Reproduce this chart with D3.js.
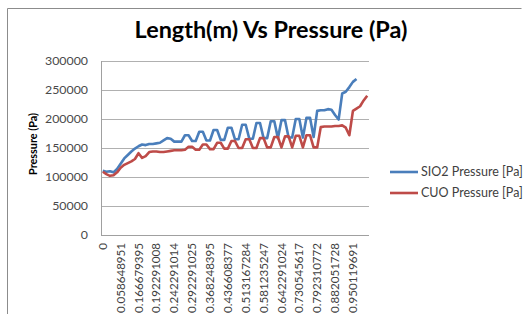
<!DOCTYPE html>
<html><head><meta charset="utf-8">
<script src="https://cdn.jsdelivr.net/npm/d3@7"></script>
<style>body{margin:0;background:#fff} svg{display:block}</style>
</head><body><svg id="c" width="531" height="314"></svg>
<script>
const title = "Length(m) Vs Pressure (Pa)";
const yTitle = "Pressure (Pa)";
const seriesNames = ["SIO2 Pressure [Pa]", "CUO Pressure [Pa]"];
const nCategories = 75;
const tickEvery = 5;
const tickLabels = ["0","0.058648951","0.166679395","0.192291008","0.242291014","0.292291025",
  "0.368248395","0.436608377","0.513167284","0.581235247","0.642291024","0.730545617",
  "0.792310772","0.882051728","0.950119691"];
const yTicks = [0,50000,100000,150000,200000,250000,300000];
const sio2 = [111000,109000,110000,108000,114000,123000,132000,138000,144000,149000,
  153000,156000,155000,157000,157000,158000,159000,163000,167000,166000,
  161000,161000,161000,172000,172000,162000,162000,178000,178000,163000,
  163000,181000,181000,164000,164000,185000,185000,165000,165000,190000,
  190000,166000,166000,193000,193000,167000,167000,196000,196000,167000,
  198000,198000,168000,168000,200000,200000,168000,202000,202000,169000,
  214000,215000,215000,217000,216000,207000,199000,244000,247000,255000,
  264000,269000];
const cuo = [109000,105000,102000,103000,108000,116000,121000,124000,127000,131000,
  141000,133000,136000,143000,144000,144000,143000,143000,144000,145000,
  146000,146000,146000,147000,152000,152000,147000,147000,156000,156000,
  148000,148000,159000,159000,149000,149000,162000,162000,150000,150000,
  165000,165000,150000,150000,167000,167000,151000,151000,169000,169000,
  151000,170000,170000,151000,171000,171000,151000,172000,172000,151000,
  151000,186000,187000,187000,187000,188000,188000,189000,185000,172000,
  214000,218000,222000,232000,240000];
const colors = ["#4A7EBB", "#BE4B48"];

const svg = d3.select("#c");
const FONT = "Lato, 'Open Sans', sans-serif";
function fit(sel, w){ const l = sel.node().getComputedTextLength(); const fs = parseFloat(sel.attr("font-size")); sel.attr("font-size", fs*w/l); return fs*w/l; }

// chart border
svg.append("path").attr("d","M7.5,314 V8.5 H521.5").attr("fill","none").attr("stroke","#8c8c8c").attr("stroke-width",1);

const L = 101, R = 369, T = 61, B = 235;
const x = d3.scaleBand().domain(d3.range(nCategories)).range([L, R]).padding(0);
const y = d3.scaleLinear().domain([0, 300000]).range([B, T]);
const cx = i => x(i) + x.bandwidth()/2;

// gridlines
svg.append("g").selectAll("line").data(yTicks.filter(d=>d>0)).join("line")
  .attr("x1", L).attr("x2", R).attr("y1", d=>Math.round(y(d))+0.5).attr("y2", d=>Math.round(y(d))+0.5)
  .attr("stroke","#b0b0b0").attr("stroke-width",1);

// axes lines
svg.append("line").attr("x1",L+0.5).attr("x2",L+0.5).attr("y1",T).attr("y2",B+0.5).attr("stroke","#a0a0a0");
svg.append("line").attr("x1",L).attr("x2",R).attr("y1",B+0.5).attr("y2",B+0.5).attr("stroke","#a0a0a0");

// y tick labels
const yl = svg.append("g").selectAll("text").data(yTicks).join("text")
  .attr("x", 88).attr("y", d=>y(d)).attr("dy","0.35em").attr("text-anchor","end")
  .attr("font-family",FONT).attr("font-size",12).attr("fill","#4a4a4a").text(d=>d);
const yfs = fit(d3.select(yl.nodes()[6]), 43);
yl.attr("font-size", yfs);

// x tick labels
const xt = d3.range(0, nCategories, tickEvery).filter((d,i)=>i<tickLabels.length);
const xl = svg.append("g").selectAll("text").data(xt).join("text")
  .attr("transform", d=>`translate(${cx(d)},243) rotate(-90)`).attr("dy","0.35em")
  .attr("text-anchor","end").attr("font-family",FONT).attr("font-size",11).attr("fill","#404040")
  .text((d,i)=>tickLabels[i]);
const xfs = fit(d3.select(xl.nodes()[1]), 70);
xl.attr("font-size", xfs);

// lines
const line = d3.line().x((d,i)=>cx(i)).y(d=>y(d));
[sio2, cuo].forEach((s,k)=>{
  svg.append("path").datum(s).attr("d", line).attr("fill","none")
    .attr("stroke", colors[k]).attr("stroke-width",2.6).attr("stroke-linejoin","round");
});

// title
const tt = svg.append("text").attr("x",271).attr("y",38).attr("text-anchor","middle")
  .attr("font-family",FONT).attr("font-weight","bold").attr("font-size",18).attr("fill","#000").text(title);
fit(tt, 273);

// y title
const yt = svg.append("text").attr("transform","translate(33,144) rotate(-90)").attr("dy","0.35em")
  .attr("text-anchor","middle").attr("font-family",FONT).attr("font-weight","bold").attr("font-size",10)
  .attr("fill","#000").text(yTitle);
fit(yt, 62);

// legend
const ly = [172, 193];
seriesNames.forEach((n,k)=>{
  svg.append("line").attr("x1",390).attr("x2",418).attr("y1",ly[k]).attr("y2",ly[k])
    .attr("stroke",colors[k]).attr("stroke-width",2.6);
  const t = svg.append("text").attr("x",421).attr("y",ly[k]).attr("dy","0.35em")
    .attr("font-family",FONT).attr("font-size",11).attr("fill","#404040").text(n);
  if(k===0) window.legFs = fit(t, 102); else t.attr("font-size", window.legFs);
});
</script></body></html>
